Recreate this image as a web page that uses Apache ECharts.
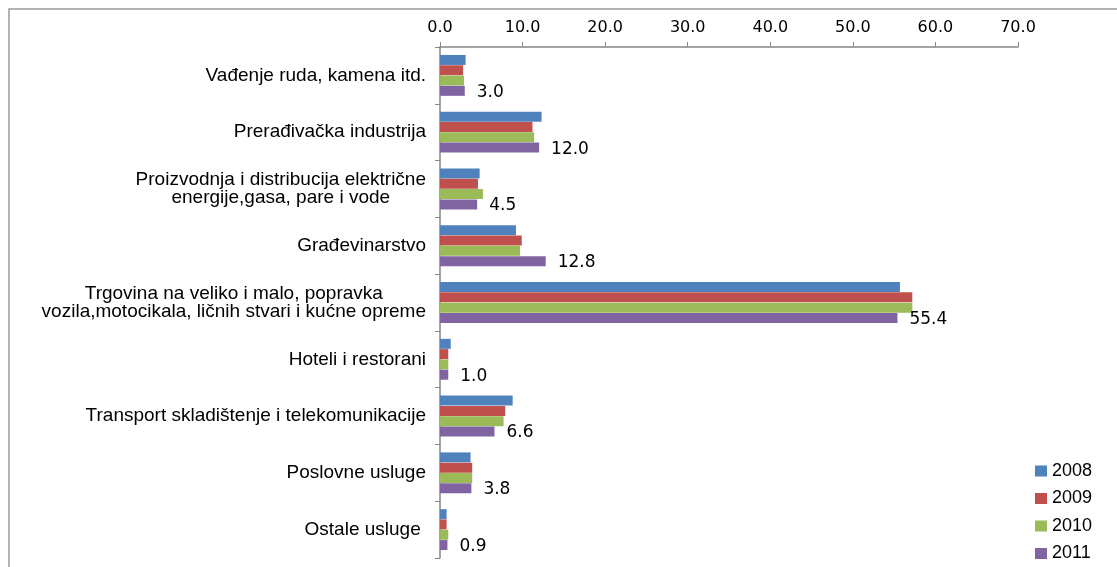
<!DOCTYPE html>
<html><head><meta charset="utf-8">
<script src="https://cdn.jsdelivr.net/npm/echarts@6/dist/echarts.min.js"></script>
<style>html,body{margin:0;padding:0;background:#fff}#c{width:1117px;height:567px}</style>
</head><body><div id="c"></div>
<script>
const categories = [
  'Vađenje ruda, kamena itd.',
  'Prerađivačka industrija',
  'Proizvodnja i distribucija električne\nenergije,gasa, pare i vode',
  'Građevinarstvo',
  'Trgovina na veliko i malo, popravka\nvozila,motocikala, ličnih stvari i kućne opreme',
  'Hoteli i restorani',
  'Transport skladištenje i telekomunikacije',
  'Poslovne usluge',
  'Ostale usluge '
];
const seriesNames = ['2008', '2009', '2010', '2011'];
const v2008 = [3.1, 12.3, 4.8, 9.2, 55.7, 1.3, 8.8, 3.7, 0.8];
const v2009 = [2.8, 11.2, 4.6, 9.9, 57.2, 1.0, 7.9, 3.9, 0.8];
const v2010 = [2.9, 11.4, 5.2, 9.7, 57.2, 1.0, 7.7, 3.9, 1.0];
const v2011 = [3.0, 12.0, 4.5, 12.8, 55.4, 1.0, 6.6, 3.8, 0.9];
const xTicks = [0, 10, 20, 30, 40, 50, 60, 70];
const colors = ['#4F81BD', '#C0504D', '#9BBB59', '#8064A2'];

const chart = echarts.init(document.getElementById('c'));
const values = [v2008, v2009, v2010, v2011];
const series = seriesNames.map((n, i) => ({
  name: n,
  type: 'bar',
  data: values[i],
  barGap: '3%',
  barCategoryGap: '28%',
  itemStyle: { color: colors[i] },
  label: i === 3 ? {
    show: true, position: 'right', distance: 12, offset: [0, 1.5],
    fontFamily: 'DejaVu Sans', fontSize: 17, color: '#000',
    formatter: p => p.value.toFixed(1)
  } : { show: false },
  emphasis: { disabled: true },
  animation: false
}));

chart.setOption({
  animation: false,
  graphic: [{
    type: 'rect', shape: { x: 9, y: 9, width: 1200, height: 600 },
    style: { fill: 'none', stroke: '#9a9a9a', lineWidth: 1.5 }, silent: true
  }],
  grid: { left: 440, right: 99, top: 47, bottom: 9, containLabel: false },
  xAxis: {
    type: 'value', position: 'top', min: xTicks[0], max: xTicks[xTicks.length - 1], interval: 10,
    axisLine: { show: true, lineStyle: { color: '#868686', width: 1.5 } },
    axisTick: { show: true, length: 5, lineStyle: { color: '#868686' } },
    splitLine: { show: false },
    axisLabel: { fontFamily: 'DejaVu Sans', fontSize: 16, lineHeight: 16, color: '#000', margin: 11,
      formatter: v => v.toFixed(1) }
  },
  yAxis: {
    type: 'category', data: categories, inverse: true,
    axisLine: { show: true, lineStyle: { color: '#868686', width: 1.5 } },
    axisTick: { show: true, length: 5, lineStyle: { color: '#868686' } },
    axisLabel: {
      interval: 0, margin: 14, color: '#000',
      fontFamily: 'Liberation Sans', fontSize: 19, lineHeight: 18,
      formatter: v => v.split('\n').map(s => '{a|' + s + '}').join('\n'),
      rich: { a: { fontFamily: 'Liberation Sans', fontSize: 19, lineHeight: 18, align: 'center', color: '#000' } }
    }
  },
  legend: {
    orient: 'vertical', left: 1035, top: 462, padding: 0,
    icon: 'rect', itemWidth: 12, itemHeight: 11, itemGap: 9.5,
    textStyle: { fontFamily: 'Liberation Sans', fontSize: 18, lineHeight: 18, color: '#000' },
    data: seriesNames
  },
  series: series
});
</script></body></html>
